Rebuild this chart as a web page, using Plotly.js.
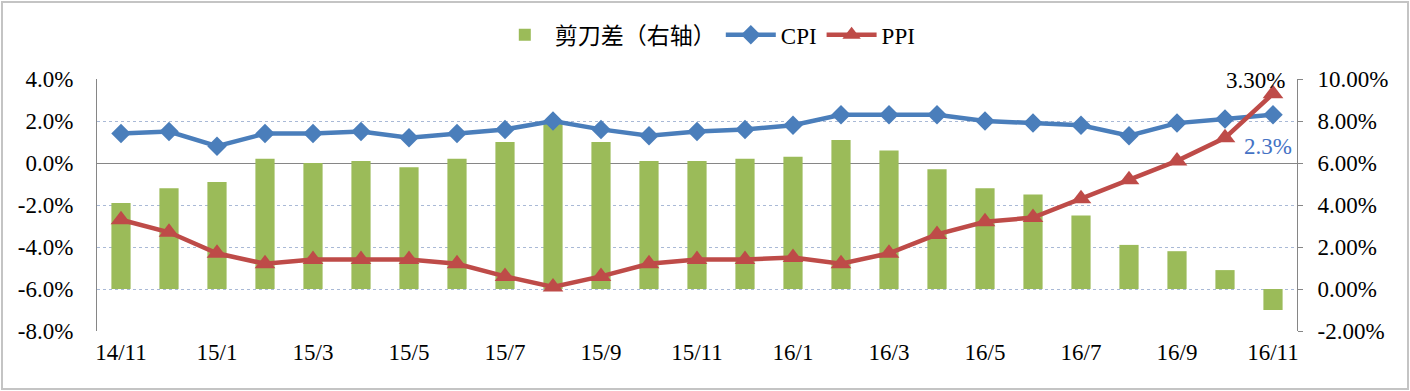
<!DOCTYPE html>
<html>
<head>
<meta charset="utf-8">
<script src="https://cdn.plot.ly/plotly-3.0.1.min.js"></script>
<style>
  html, body { margin: 0; padding: 0; background: #fff; }
  #wrap { position: relative; width: 1410px; height: 391px; }
  #chart { width: 1410px; height: 391px; }
  #frame { position: absolute; left: 1px; top: 1px; width: 1404px; height: 385px;
           border: 2px solid #C4C4C4; pointer-events: none; }
</style>
</head>
<body>
<div id="wrap"><div id="chart"></div><div id="frame"></div></div>
<script>
const months = ["14/11","14/12","15/1","15/2","15/3","15/4","15/5","15/6","15/7","15/8","15/9","15/10",
                "15/11","15/12","16/1","16/2","16/3","16/4","16/5","16/6","16/7","16/8","16/9","16/10","16/11"];
const cpi = [1.4,1.5,0.8,1.4,1.4,1.5,1.2,1.4,1.6,2.0,1.6,1.3,1.5,1.6,1.8,2.3,2.3,2.3,2.0,1.9,1.8,1.3,1.9,2.1,2.3];
const ppi = [-2.7,-3.3,-4.3,-4.8,-4.6,-4.6,-4.6,-4.8,-5.4,-5.9,-5.4,-4.8,-4.6,-4.6,-4.5,-4.8,-4.3,-3.4,-2.8,-2.6,-1.7,-0.8,0.1,1.2,3.3];
const scissors = [4.1,4.8,5.1,6.2,6.0,6.1,5.8,6.2,7.0,7.9,7.0,6.1,6.1,6.2,6.3,7.1,6.6,5.7,4.8,4.5,3.5,2.1,1.8,0.9,-1.0];
const tickMonths = months.filter((m, i) => i % 2 === 0);
const leftTicks = [-8,-6,-4,-2,0,2,4];
const rightTicks = [-2,0,2,4,6,8,10];
const names = ["剪刀差（右轴）", "CPI", "PPI"];
const ppiLabel = "3.30%";
const cpiLabel = "2.3%";

const serif = "Liberation Serif, Times New Roman, Noto Sans CJK SC, serif";
const GREEN = "#9BBB59", BLUE = "#4A7EBB", RED = "#BE4B48";

const traces = [
  { type: "bar", name: names[0], x: months, y: scissors, yaxis: "y", xaxis: "x",
    marker: { color: GREEN }, width: 0.4, hoverinfo: "skip" },
  { type: "scatter", mode: "lines+markers", name: names[1], x: months, y: cpi, yaxis: "y2",
    line: { color: BLUE, width: 4.5 }, marker: { symbol: "diamond", size: 15, color: BLUE } },
  { type: "scatter", mode: "lines+markers", name: names[2], x: months, y: ppi, yaxis: "y2",
    line: { color: RED, width: 4.5 }, marker: { symbol: "triangle-up", size: 18, color: RED } }
];

const layout = {
  width: 1410, height: 391,
  margin: { l: 97, r: 113, t: 79, b: 60 },
  paper_bgcolor: "#fff", plot_bgcolor: "rgba(0,0,0,0)",
  font: { family: serif, color: "#000", size: 21 },
  showlegend: true,
  legend: { orientation: "h", x: 0.509, xanchor: "center", y: 1.175, yanchor: "middle",
            font: { family: serif, size: 23, color: "#000" }, traceorder: "normal",
            itemwidth: 50, bgcolor: "rgba(0,0,0,0)" },
  xaxis: { type: "category", anchor: "y", range: [-0.5, 24.5], showline: false, showgrid: false,
           zeroline: false, tickmode: "array", tickvals: tickMonths, ticktext: tickMonths,
           ticks: "", ticklabelstandoff: 5, tickfont: { family: serif, size: 23, color: "#000" } },
  yaxis: { side: "right", range: [-2, 10], tickmode: "array", tickvals: rightTicks,
           ticktext: rightTicks.map(v => v.toFixed(2) + "%"),
           showgrid: false, zeroline: false, showline: true, linecolor: "#868686", linewidth: 1,
           ticks: "outside", ticklen: 5, tickcolor: "#868686", ticklabelstandoff: 10,
           tickfont: { family: serif, size: 23, color: "#000" } },
  yaxis2: { side: "left", overlaying: "y", range: [-8, 4], tickmode: "array", tickvals: leftTicks,
            ticktext: leftTicks.map(v => v.toFixed(1) + "%"),
            showgrid: true, gridcolor: "#A9B9D6", griddash: "dot", gridwidth: 1,
            zeroline: true, zerolinecolor: "#868686", zerolinewidth: 1,
            showline: true, linecolor: "#868686", linewidth: 1,
            ticks: "", ticklabelstandoff: 18,
            tickfont: { family: serif, size: 23, color: "#000" } },
  annotations: [
    { xref: "x", yref: "y2", x: months[months.length - 1], y: ppi[ppi.length - 1],
      text: ppiLabel, showarrow: false, xshift: -18, yshift: 13,
      font: { family: serif, size: 23, color: "#000" } },
    { xref: "x", yref: "y2", x: months[months.length - 1], y: cpi[cpi.length - 1],
      text: cpiLabel, showarrow: false, xshift: -5, yshift: -32,
      font: { family: serif, size: 23, color: "#4472C4" } }
  ],
  bargap: 0.6
};

Plotly.newPlot("chart", traces, layout, { displayModeBar: false, staticPlot: true });
</script>
</body>
</html>
